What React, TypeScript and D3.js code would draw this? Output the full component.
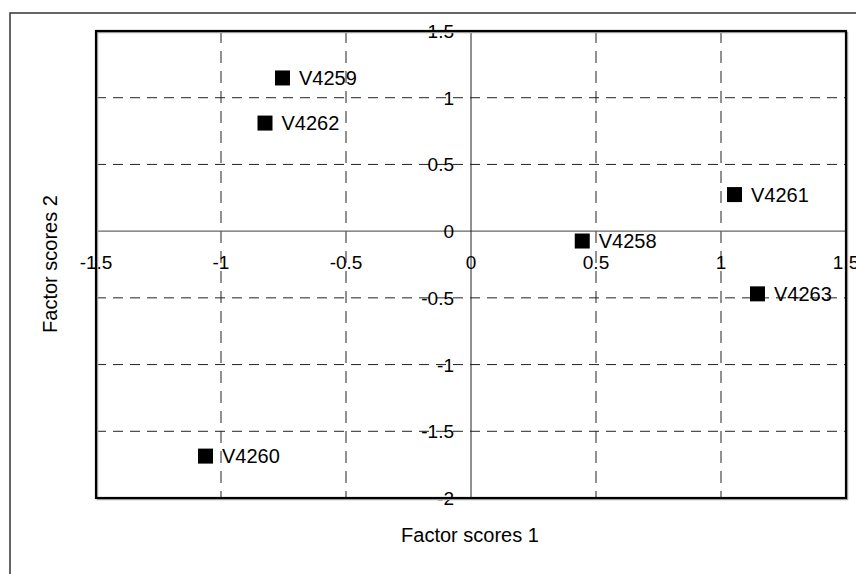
import React from "react";
import * as d3 from "d3";

const pointNames = ["V4258", "V4259", "V4260", "V4261", "V4262", "V4263"];
const factor1 = [0.445, -0.754, -1.062, 1.054, -0.824, 1.146];
const factor2 = [-0.074, 1.148, -1.686, 0.274, 0.81, -0.47];
const xTicks = [-1.5, -1, -0.5, 0, 0.5, 1, 1.5];
const yTicks = [1.5, 1, 0.5, 0, -0.5, -1, -1.5, -2];
const xTitle = "Factor scores 1";
const yTitle = "Factor scores 2";

const W = 856;
const H = 574;
const plot = { left: 96, right: 846, top: 31, bottom: 498 };
const FONT = "Arial, 'Liberation Sans', sans-serif";

export default function App() {
  const x = d3.scaleLinear().domain([-1.5, 1.5]).range([plot.left, plot.right]);
  const y = d3.scaleLinear().domain([-2, 1.5]).range([plot.bottom, plot.top]);
  const x0 = x(0);
  const y0 = y(0);
  const fmt = (v: number) => String(v);
  const sz = 15;

  return (
    <svg
      width={W}
      height={H}
      style={{ position: "absolute", left: 0, top: 0, background: "#fff" }}
      fontFamily={FONT}
    >
      <rect x={0} y={0} width={W} height={H} fill="#fff" />
      {/* outer frame */}
      <rect x={10} y={13} width={W + 20} height={H + 20} fill="none" stroke="#333" strokeWidth={1.5} />
      {/* grid */}
      {xTicks
        .filter((t) => t !== 0 && t !== -1.5 && t !== 1.5)
        .map((t) => (
          <line key={"gx" + t} x1={x(t)} x2={x(t)} y1={plot.top} y2={plot.bottom} stroke="#222" strokeWidth={1} strokeDasharray="12,8" />
        ))}
      {yTicks
        .filter((t) => t !== 0 && t !== 1.5 && t !== -2)
        .map((t) => (
          <line key={"gy" + t} x1={plot.left} x2={plot.right} y1={y(t)} y2={y(t)} stroke="#222" strokeWidth={1} strokeDasharray="10,7" />
        ))}
      {/* zero axes */}
      <line x1={plot.left} x2={plot.right} y1={y0} y2={y0} stroke="#666" strokeWidth={1.2} />
      <line x1={x0} x2={x0} y1={plot.top} y2={plot.bottom} stroke="#222" strokeWidth={1} />
      {/* tick labels */}
      {xTicks.map((t) => (
        <text key={"tx" + t} x={x(t)} y={y0 + 38} textAnchor="middle" fontSize={19} fill="#000">
          {fmt(t)}
        </text>
      ))}
      {yTicks.map((t) => (
        <text key={"ty" + t} x={x0 - 17} y={y(t) + 7} textAnchor="end" fontSize={19} fill="#000">
          {fmt(t)}
        </text>
      ))}
      {/* points */}
      {pointNames.map((n, i) => (
        <g key={n}>
          <rect x={x(factor1[i]) - sz / 2} y={y(factor2[i]) - sz / 2} width={sz} height={sz} fill="#000" />
          <text x={x(factor1[i]) + 16.5} y={y(factor2[i]) + 7} fontSize={20} fill="#000">
            {n}
          </text>
        </g>
      ))}
      {/* plot border with shadow */}
      <rect x={plot.left + 1.5} y={plot.top + 1.5} width={plot.right - plot.left} height={plot.bottom - plot.top} fill="none" stroke="#aaa" strokeWidth={1.5} />
      <rect x={plot.left} y={plot.top} width={plot.right - plot.left} height={plot.bottom - plot.top} fill="none" stroke="#000" strokeWidth={2.2} />
      {/* titles */}
      <text x={(plot.left + plot.right) / 2 - 1} y={542} textAnchor="middle" fontSize={20} fill="#000">
        {xTitle}
      </text>
      <text transform={`translate(57,264) rotate(-90)`} textAnchor="middle" fontSize={20} fill="#000">
        {yTitle}
      </text>
    </svg>
  );
}
